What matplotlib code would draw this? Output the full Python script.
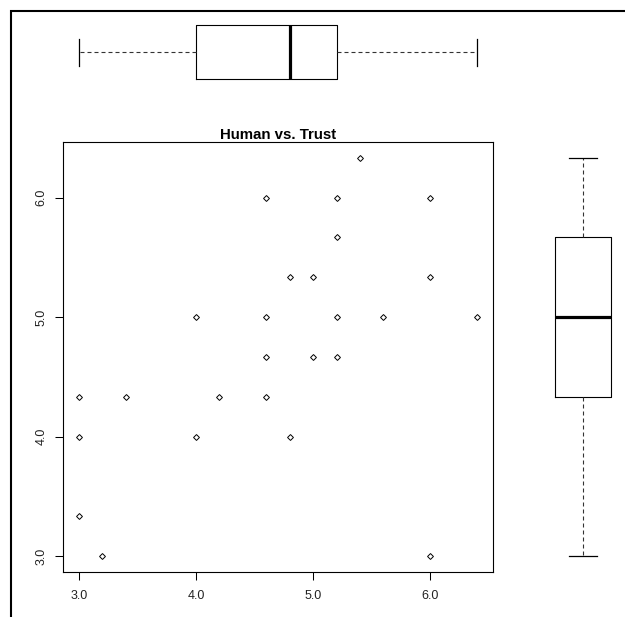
import matplotlib
matplotlib.use("Agg")
import matplotlib.pyplot as plt
from matplotlib.lines import Line2D
import matplotlib.transforms as mtransforms
import numpy as np

plt.rcParams['font.family'] = ['Liberation Sans', 'DejaVu Sans']

# ---- data ----
human = [3.0, 3.0, 3.0, 3.2, 3.4, 4.0, 4.0, 4.2, 4.6, 4.6, 4.6, 4.6, 4.8,
         4.8, 5.0, 5.0, 5.2, 5.2, 5.2, 5.2, 5.4, 5.6, 6.0, 6.0, 6.0, 6.4]
trust = [4.333, 4.0, 3.333, 3.0, 4.333, 5.0, 4.0, 4.333, 6.0, 5.0, 4.667, 4.333, 5.333,
         4.0, 5.333, 4.667, 6.0, 5.667, 5.0, 4.667, 6.333, 5.0, 6.0, 5.333, 3.0, 5.0]

# five-number summaries shown by the marginal boxplots
human_box = [3.0, 4.0, 4.8, 5.2, 6.4]
trust_box = [3.0, 4.333, 5.0, 5.667, 6.333]

x_ticks = [3.0, 4.0, 5.0, 6.0]
x_tick_labels = ["3.0", "4.0", "5.0", "6.0"]
y_ticks = [3.0, 4.0, 5.0, 6.0]
y_tick_labels = ["3.0", "4.0", "5.0", "6.0"]
title = "Human vs. Trust"

W, H = 625, 617
fig = plt.figure(figsize=(W / 100, H / 100), dpi=100)

def px_axes(left, top, right, bottom):
    return [left / W, 1 - bottom / H, (right - left) / W, (bottom - top) / H]

ax = fig.add_axes(px_axes(63, 142, 493, 572))
ax_top = fig.add_axes(px_axes(63, 18.25, 493, 85.75), sharex=ax)
ax_right = fig.add_axes(px_axes(548, 142, 618, 572), sharey=ax)

# scatter
ax.plot(human, trust, linestyle='none', marker='D', ms=3.0, mfc='white',
        mec='black', mew=0.7)

def pad_lim(v):
    lo, hi = min(v), max(v)
    r = hi - lo
    return lo - 0.04 * r, hi + 0.04 * r

ax.set_xticks(x_ticks, x_tick_labels)
ax.set_yticks(y_ticks, y_tick_labels)
ax.tick_params(direction='out', length=5.8, width=0.75, labelsize=9,
               colors='black', labelcolor='#222222')
ax.tick_params(axis='x', pad=7.5)
ax.tick_params(axis='y', pad=5.3)
plt.setp(ax.get_yticklabels(), rotation=90, va='center')
for s in ax.spines.values():
    s.set_linewidth(0.8)
    s.set_color('black')

off = mtransforms.offset_copy(ax.transAxes, fig=fig, x=0, y=3, units='dots')
ax.text(0.5, 1.0, title, transform=off, ha='center', va='baseline',
        fontsize=10.8, fontweight='bold')

def stats(v):
    return [dict(whislo=v[0], q1=v[1], med=v[2], q3=v[3], whishi=v[4], fliers=[])]

bp_kw = dict(
    widths=0.8, showfliers=False,
    boxprops=dict(color='black', linewidth=0.8),
    medianprops=dict(color='black', linewidth=2.3, solid_capstyle='butt'),
    whiskerprops=dict(color='#333333', linewidth=0.8, linestyle=(0, (3.6, 2.7))),
    capprops=dict(color='black', linewidth=0.9),
)

ax_top.bxp(stats(human_box), positions=[1], orientation='horizontal', **bp_kw)
ax_top.set_ylim(0.5, 1.5)
ax_top.axis('off')

ax_right.bxp(stats(trust_box), positions=[1], **bp_kw)
ax_right.set_xlim(0.5, 1.5)
ax_right.axis('off')

ax.set_xlim(*pad_lim(human))
ax.set_ylim(*pad_lim(trust))

# outer frame (top and left edges visible)
fx = 11 / W
fy = 1 - 11 / H
fig.add_artist(Line2D([fx, fx, 1.0], [0.0, fy, fy], transform=fig.transFigure,
                      color='black', linewidth=1.5, solid_joinstyle='miter'))

fig.savefig("out.png", dpi=100)
